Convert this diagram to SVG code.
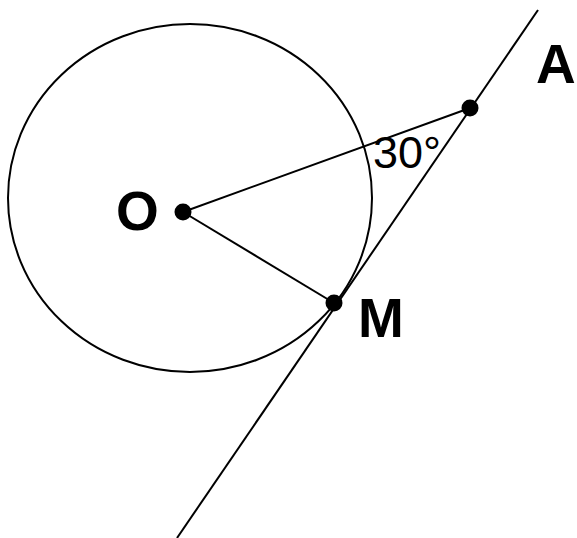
<svg xmlns="http://www.w3.org/2000/svg" width="577" height="538" viewBox="0 0 577 538">
<style>
.ln{stroke:#000;stroke-width:2;fill:none}
.dot{fill:#000}
.lbl{font-family:"Liberation Sans",Arial,sans-serif;font-weight:bold;font-size:55px;fill:#000}
.ang{font-family:"Liberation Sans",Arial,sans-serif;font-size:45px;fill:#000}
</style>
<rect width="577" height="538" fill="#fff"/>
<g id="circle"><ellipse class="ln" cx="190" cy="198" rx="182" ry="174"/></g>
<g id="connectors">
<line class="ln" x1="538" y1="10" x2="177" y2="538"/>
<line class="ln" x1="183" y1="212" x2="470" y2="108"/>
<line class="ln" x1="183" y1="212" x2="334" y2="303"/>
</g>
<g id="O"><circle class="dot" cx="183" cy="212" r="8.5"/><text class="lbl" x="116" y="230">O</text></g>
<g id="A"><circle class="dot" cx="470" cy="108" r="8.5"/><text class="lbl" x="536" y="83">A</text></g>
<g id="M"><circle class="dot" cx="334" cy="303" r="8.5"/><text class="lbl" x="358" y="337">M</text></g>
<g id="angle"><text class="ang" x="373" y="168">30°</text></g>
</svg>
